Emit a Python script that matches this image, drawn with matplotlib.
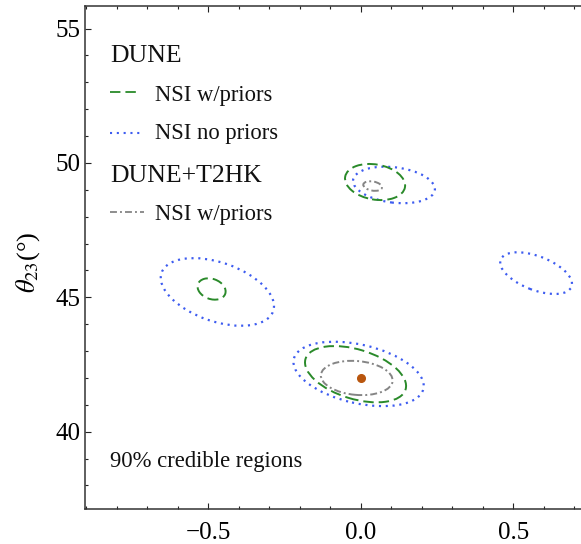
import matplotlib
matplotlib.use('Agg')
import matplotlib.pyplot as plt
from matplotlib.patches import Ellipse
from matplotlib.transforms import Affine2D
from matplotlib.ticker import MultipleLocator, FuncFormatter

plt.rcParams['font.family'] = ['Liberation Serif', 'DejaVu Serif']
plt.rcParams['mathtext.fontset'] = 'stix'
plt.rcParams['lines.scale_dashes'] = False

# 90% credible contours: centre (x, theta23), full axes in x units, tilt in deg
dune_pri_x = [0.047, -0.489, -0.017]
dune_pri_y = [49.29, 45.31, 42.14]
dune_pri_w = [0.199, 0.095, 0.343]
dune_pri_h = [0.115, 0.066, 0.162]
dune_pri_tilt = [-10, -20, -17]

dune_nopri_x = [0.109, -0.470, -0.007, 0.575]
dune_nopri_y = [49.18, 45.20, 42.15, 45.90]
dune_nopri_w = [0.270, 0.387, 0.436, 0.249]
dune_nopri_h = [0.116, 0.193, 0.192, 0.111]
dune_nopri_tilt = [-7, -19, -13, -21]

combo_pri_x = [0.039, -0.013]
combo_pri_y = [49.14, 42.0]
combo_pri_w = [0.062, 0.236]
combo_pri_h = [0.030, 0.111]
combo_pri_tilt = [-10, -5]

true_x = [0.0]
true_y = [42.0]

green = '#2a8a2a'
blue = '#3d5cf0'
gray = '#858585'

green_ls = (0, (7.5, 3.6))
blue_ls = (0, (1.5, 3.4))
gray_ls = (0, (5.0, 2.2, 1.4, 2.2))

fig = plt.figure(figsize=(5.81, 5.44), dpi=100)
ax = fig.add_axes([0.1463, 0.0643, 0.8683, 0.9246])
ax.set_xlim(-0.904, 0.75)
ax.set_ylim(37.124, 55.837)

# y units per x unit on screen, so ellipses can be tilted without shearing
p0 = ax.transData.transform((0, 0))
p1 = ax.transData.transform((1, 1))
k = (p1[0] - p0[0]) / (p1[1] - p0[1])


def contours(xs, ys, ws, hs, tilts, color, ls, lw):
    for xc, yc, w, h, t in zip(xs, ys, ws, hs, tilts):
        tr = Affine2D().scale(1, k).translate(xc, yc) + ax.transData
        e = Ellipse((0, 0), w, h, angle=t, transform=tr, fill=False,
                    edgecolor=color, linestyle=ls, linewidth=lw)
        ax.add_patch(e)


contours(dune_nopri_x, dune_nopri_y, dune_nopri_w, dune_nopri_h,
         dune_nopri_tilt, blue, blue_ls, 1.6)
contours(dune_pri_x, dune_pri_y, dune_pri_w, dune_pri_h,
         dune_pri_tilt, green, green_ls, 1.4)
contours(combo_pri_x, combo_pri_y, combo_pri_w, combo_pri_h,
         combo_pri_tilt, gray, gray_ls, 1.4)
ax.plot(true_x, true_y, 'o', color='#b9560e', markersize=5.5, zorder=5)

# hand-made legend
tA = ax.transAxes
ax.text(0.0496, 0.889, 'DUNE', transform=tA, fontsize=18.5, color='#111')
ax.plot([0.0496, 0.105], [0.8296, 0.8296], transform=tA, color=green,
        linestyle=green_ls, lw=1.3)
ax.text(0.1388, 0.812, 'NSI w/priors', transform=tA, fontsize=16.3, color='#111')
ax.plot([0.0496, 0.117], [0.748, 0.748], transform=tA, color=blue,
        linestyle=blue_ls, lw=1.5)
ax.text(0.1388, 0.735, 'NSI no priors', transform=tA, fontsize=16.3, color='#111')
ax.text(0.0496, 0.651, 'DUNE+T2HK', transform=tA, fontsize=18.5, color='#111')
ax.plot([0.0496, 0.117], [0.591, 0.591], transform=tA, color=gray,
        linestyle=gray_ls, lw=1.3)
ax.text(0.1388, 0.5746, 'NSI w/priors', transform=tA, fontsize=16.3, color='#111')
ax.text(0.0496, 0.0841, '90% credible regions', transform=tA, fontsize=16.3,
        color='#111')

ax.set_ylabel(r'$\theta_{23}$(°)', fontsize=19)
ax.yaxis.set_label_coords(-0.085, 0.49)

ax.xaxis.set_major_locator(MultipleLocator(0.5))
ax.xaxis.set_minor_locator(MultipleLocator(0.1))
ax.yaxis.set_major_locator(MultipleLocator(5))
ax.yaxis.set_minor_locator(MultipleLocator(1))
ax.xaxis.set_major_formatter(FuncFormatter(lambda v, p: f'{v:.1f}'.replace('-', '\u2212')))
ax.tick_params(which='both', direction='in', top=True, right=True,
               width=0.8, color='#222', labelsize=18)
ax.tick_params(which='major', length=4.3)
ax.tick_params(which='minor', length=2.5)
ax.tick_params(axis='x', pad=9.5)
ax.tick_params(axis='y', pad=3.6)
for s in ax.spines.values():
    s.set_linewidth(1.1)
    s.set_color('#333')

fig.savefig('out.png', dpi=100)
